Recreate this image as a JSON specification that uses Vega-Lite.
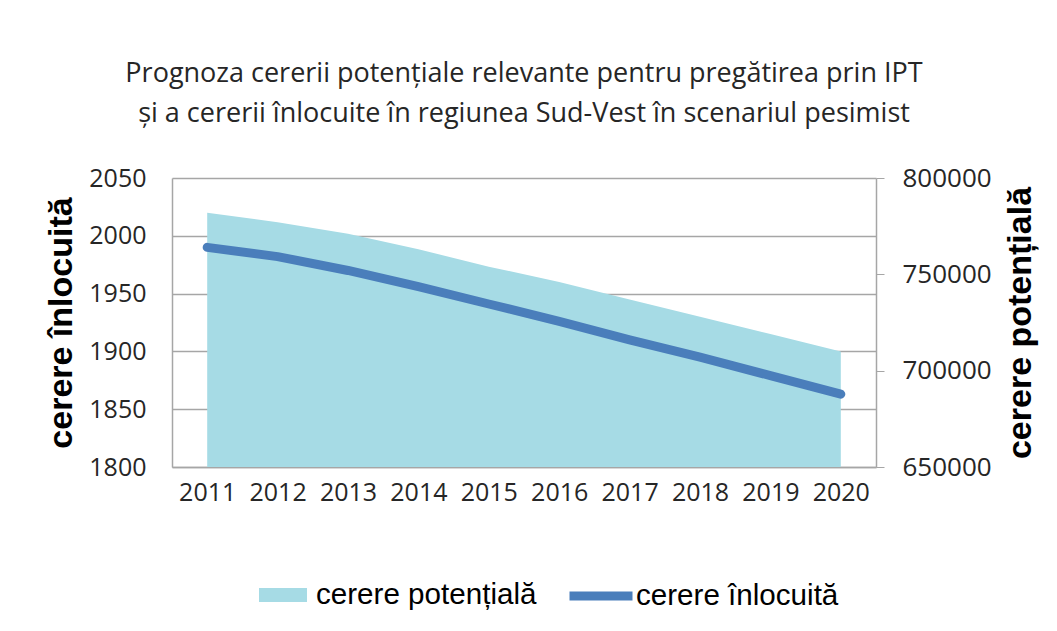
{
  "$schema": "https://vega.github.io/schema/vega-lite/v6.json",
  "width": 704,
  "height": 289,
  "autosize": {"type": "none"},
  "padding": {"left": 172, "top": 178, "right": 181, "bottom": 164},
  "background": "white",
  "title": {
    "text": ["Prognoza cererii potențiale relevante pentru pregătirea prin IPT", "și a cererii înlocuite în regiunea Sud-Vest în scenariul pesimist"],
    "font": "Open Sans",
    "fontSize": 27,
    "fontWeight": "normal",
    "color": "#262626",
    "lineHeight": 40,
    "anchor": "middle",
    "offset": 37
  },
  "data": {
    "values": [
      {"an": "2011", "potentiala": 782000, "inlocuita": 1990},
      {"an": "2012", "potentiala": 777000, "inlocuita": 1982},
      {"an": "2013", "potentiala": 771000, "inlocuita": 1970},
      {"an": "2014", "potentiala": 763000, "inlocuita": 1956},
      {"an": "2015", "potentiala": 754000, "inlocuita": 1941},
      {"an": "2016", "potentiala": 746000, "inlocuita": 1926},
      {"an": "2017", "potentiala": 737000, "inlocuita": 1910},
      {"an": "2018", "potentiala": 728000, "inlocuita": 1895},
      {"an": "2019", "potentiala": 719000, "inlocuita": 1879},
      {"an": "2020", "potentiala": 710000, "inlocuita": 1863}
    ]
  },
  "encoding": {
    "x": {
      "field": "an",
      "type": "ordinal",
      "scale": {"paddingInner": 0, "paddingOuter": 0},
      "axis": {
        "title": null,
        "labelAngle": 0,
        "ticks": false,
        "labelPadding": 13,
        "labelOverlap": false,
        "labelFont": "Open Sans",
        "labelFontSize": 25,
        "labelColor": "#262626",
        "domainColor": "#a6a6a6",
        "domainWidth": 1.5,
        "grid": false
      }
    }
  },
  "layer": [
    {
      "mark": {"type": "area", "opacity": 1},
      "encoding": {
        "y": {
          "field": "potentiala",
          "type": "quantitative",
          "scale": {"domain": [650000, 800000], "zero": false},
          "axis": {
            "orient": "right",
            "title": "cerere potențială",
            "titleAngle": 270,
            "titleBaseline": "top",
            "titleFont": "Liberation Sans",
            "titleFontSize": 34,
            "titleFontWeight": "bold",
            "titleColor": "#000000",
            "titlePadding": 12,
            "values": [650000, 700000, 750000, 800000],
            "format": "d",
            "grid": false,
            "ticks": true,
            "tickSize": 8,
            "tickColor": "#a6a6a6",
            "labelPadding": 18,
            "labelFont": "Open Sans",
            "labelFontSize": 26,
            "labelColor": "#262626",
            "domainColor": "#a6a6a6",
            "domainWidth": 1.5
          }
        },
        "y2": {"datum": 650000},
        "fill": {
          "datum": "cerere potențială",
          "scale": {"range": ["#a6dbe5"]},
          "legend": {
            "title": " ",
            "titleOrient": "left",
            "titleFontSize": 6,
            "titlePadding": 43,
            "orient": "bottom",
            "offset": 45,
            "padding": 10,
            "symbolType": "M-0.774,-0.226H0.774V0.226H-0.774Z",
            "symbolSize": 3844,
            "symbolStrokeWidth": 0,
            "symbolOpacity": 1,
            "labelOffset": 2,
            "labelFont": "Liberation Sans",
            "labelFontSize": 29.6,
            "labelColor": "#000000",
            "labelLimit": 400
          }
        }
      }
    },
    {
      "mark": {"type": "line", "strokeWidth": 9, "strokeCap": "round", "strokeJoin": "round"},
      "encoding": {
        "y": {
          "field": "inlocuita",
          "type": "quantitative",
          "scale": {"domain": [1800, 2050], "zero": false},
          "axis": {
            "orient": "left",
            "title": "cerere înlocuită",
            "titleFont": "Liberation Sans",
            "titleFontSize": 34,
            "titleFontWeight": "bold",
            "titleColor": "#000000",
            "titlePadding": 10,
            "values": [1800, 1850, 1900, 1950, 2000, 2050],
            "format": "d",
            "grid": true,
            "gridColor": "#a6a6a6",
            "gridWidth": 1.5,
            "ticks": false,
            "labelPadding": 26,
            "labelFont": "Open Sans",
            "labelFontSize": 25,
            "labelColor": "#262626",
            "domainColor": "#a6a6a6",
            "domainWidth": 1.5
          }
        },
        "stroke": {
          "datum": "cerere înlocuită",
          "scale": {"range": ["#4a7ebb"]},
          "legend": {
            "title": null,
            "orient": "bottom",
            "offset": 45,
            "padding": 10,
            "symbolType": "stroke",
            "symbolSize": 3969,
            "symbolStrokeWidth": 9,
            "labelOffset": -1,
            "labelFont": "Liberation Sans",
            "labelFontSize": 29.6,
            "labelColor": "#000000",
            "labelLimit": 400
          }
        }
      }
    }
  ],
  "resolve": {"scale": {"y": "independent"}},
  "config": {
    "view": {"stroke": null},
    "legend": {"layout": {"bottom": {"anchor": "middle", "offset": 28, "center": true}}}
  }
}
